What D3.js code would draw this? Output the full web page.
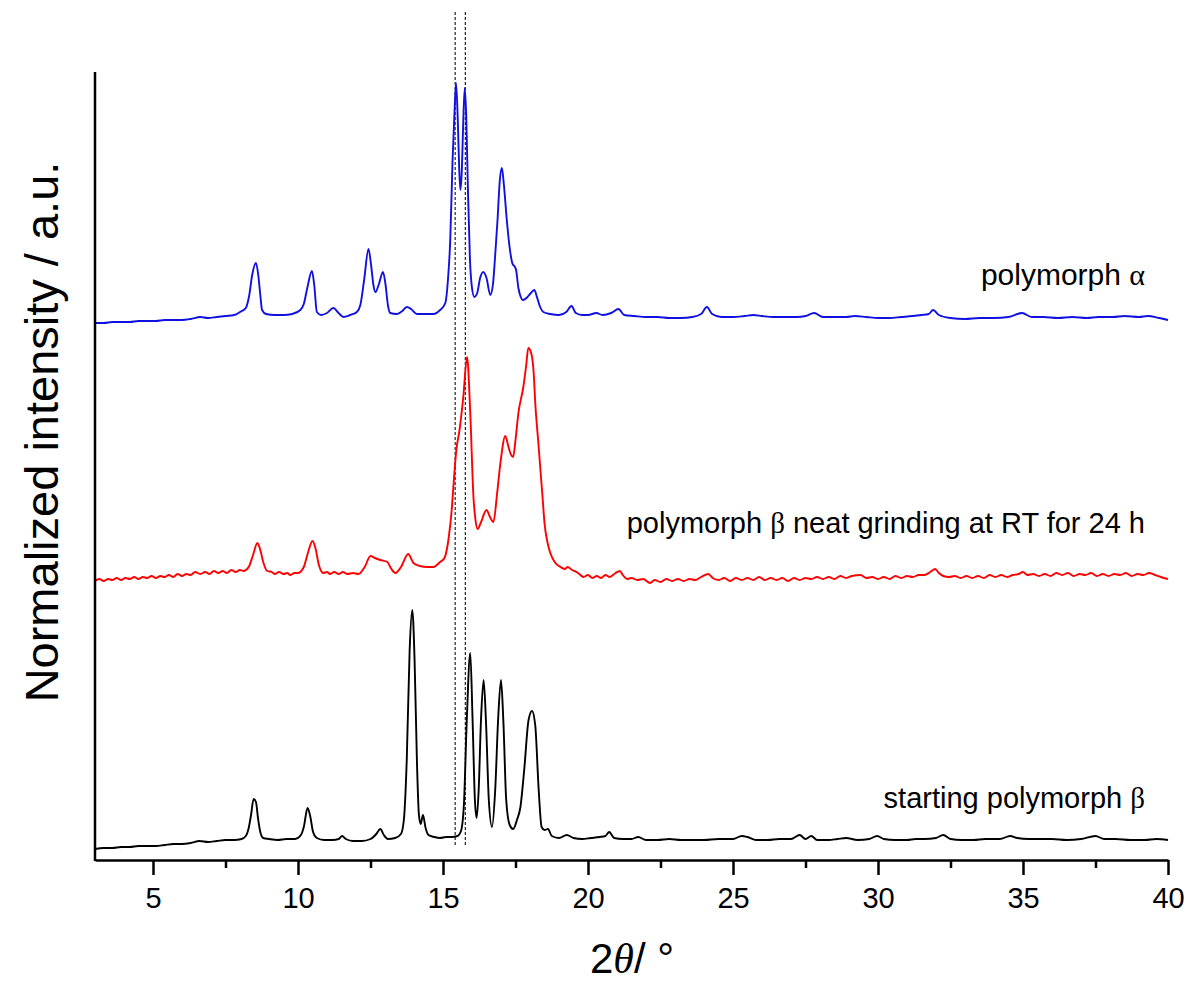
<!DOCTYPE html>
<html>
<head>
<meta charset="utf-8">
<script src="https://cdnjs.cloudflare.com/ajax/libs/d3/7.8.5/d3.min.js"></script>
<style>
  body { margin: 0; background: #fff; }
  svg { display: block; }
  text { font-family: "Liberation Sans", Arial, sans-serif; fill: #000; }
</style>
</head>
<body>
<div id="chart"></div>
<script>
// 2theta (deg) / normalized intensity (a.u., stacked)
var alphaData = [
  [3.0,537],[3.3,537],[3.6,538],[3.9,538],[4.2,538],[4.5,539],[4.8,539],[5.1,539],[5.4,540],[5.7,540],
  [6.0,540],[6.3,541],[6.63,543],[6.9,542],[7.2,543],[7.5,544],[7.8,545],[8.0,548],[8.2,552],[8.32,565],
  [8.42,585],[8.55,597],[8.63,585],[8.7,565],[8.76,550],[8.9,546],[9.2,545],[9.5,545],[9.8,546],[10.08,550],
  [10.2,556],[10.32,572],[10.48,589],[10.56,575],[10.65,548],[10.8,545],[11.0,547],[11.22,552],[11.4,547],[11.57,543],
  [11.8,545],[12.03,548],[12.15,555],[12.28,580],[12.43,611],[12.52,595],[12.6,575],[12.67,568],[12.78,575],[12.93,588],
  [13.02,575],[13.1,555],[13.18,547],[13.4,546],[13.6,549],[13.75,553],[13.9,551],[14.1,546],[14.4,546],[14.67,546],
  [14.9,550],[15.08,557],[15.17,580],[15.25,620],[15.33,700],[15.4,750],[15.45,777],[15.51,740],[15.56,690],[15.6,670],
  [15.65,690],[15.7,740],[15.75,772],[15.8,745],[15.86,670],[15.93,600],[16.0,572],[16.08,563],[16.18,567],[16.28,582],
  [16.39,588],[16.5,582],[16.63,565],[16.72,575],[16.8,605],[16.88,640],[16.96,680],[17.03,692],[17.1,675],[17.2,640],
  [17.3,612],[17.4,596],[17.46,594],[17.52,590],[17.6,572],[17.68,563],[17.75,560],[17.88,562],[18.0,566],[18.15,570],
  [18.25,562],[18.35,553],[18.46,548],[18.7,546],[19.0,545],[19.25,548],[19.43,554],[19.58,547],[19.8,545],[20.0,545],
  [20.29,547],[20.5,545],[20.8,547],[21.05,551],[21.25,545],[21.6,544],[22.0,543],[22.4,543],[22.8,542],[23.2,542],
  [23.6,543],[23.9,546],[24.1,553],[24.28,546],[24.6,543],[25.0,543],[25.4,544],[25.7,545],[26.0,544],[26.4,543],
  [26.8,543],[27.2,543],[27.5,544],[27.8,547],[28.1,543],[28.5,543],[28.9,543],[29.2,544],[29.6,543],[30.0,542],
  [30.4,542],[30.8,543],[31.2,544],[31.5,545],[31.75,546],[31.9,550],[32.1,545],[32.5,542],[33.0,541],[33.5,542],
  [34.0,542],[34.5,543],[34.97,547],[35.3,543],[35.7,543],[36.2,542],[36.7,543],[37.2,542],[37.6,543],[38.1,543],
  [38.5,544],[39.0,543],[39.3,544],[39.7,542],[40.0,540]
];

var groundData = [
  [3.0,279],[3.15,281],[3.3,279],[3.45,281],[3.6,280],[3.75,282],[3.9,280],[4.05,282],[4.2,281],[4.35,283],
  [4.5,281],[4.65,283],[4.8,282],[4.95,284],[5.1,282],[5.25,284],[5.4,283],[5.55,285],[5.7,283],[5.85,286],
  [6.0,284],[6.15,286],[6.3,285],[6.45,288],[6.63,286],[6.8,288],[6.95,286],[7.1,289],[7.25,287],[7.4,289],
  [7.55,287],[7.7,290],[7.85,288],[8.0,290],[8.12,289],[8.3,293],[8.45,305],
  [8.6,317],[8.7,310],[8.8,298],[8.94,289],[9.1,288],[9.2,286],[9.35,288],[9.5,286],[9.63,287],[9.73,285],[9.88,287],[10.0,287],[10.2,293],[10.35,308],
  [10.5,319],[10.6,312],[10.72,295],[10.87,287],[11.0,288],[11.1,286],[11.25,288],[11.4,286],[11.55,288],[11.7,286],[11.9,287],[12.08,286],[12.3,293],[12.5,304],
  [12.65,302],[12.84,300],[13.08,298],[13.2,292],[13.36,287],[13.55,293],[13.8,306],[13.98,297],[14.2,294],[14.46,293],
  [14.67,293],[14.9,298],[15.05,302],[15.2,323],[15.3,350],[15.35,370],[15.46,410],[15.57,430],[15.7,463],[15.83,503],
  [15.94,447],[16.05,363],[16.12,340],[16.19,331],[16.3,337],[16.5,350],[16.62,343],[16.74,338],[16.86,365],[16.98,397],
  [17.15,424],[17.25,414],[17.32,407],[17.42,403],[17.5,420],[17.6,447],[17.77,473],[17.87,495],[17.94,512],[18.04,507],
  [18.12,490],[18.19,453],[18.28,420],[18.36,390],[18.44,360],[18.5,337],[18.6,318],[18.7,307],[18.85,298],
  [19.05,293],[19.2,291],[19.3,293],[19.45,290],[19.6,288],[19.7,286],[19.84,283],[20.0,285],[20.15,282],[20.3,284],
  [20.45,282],[20.6,285],[20.75,283],[20.95,287],[21.1,289],[21.2,285],[21.35,281],[21.5,282],[21.7,280],[21.9,281],
  [22.14,277],[22.3,280],[22.5,278],[22.7,281],[22.9,279],[23.1,281],[23.3,279],[23.5,281],[23.7,280],[23.9,283],
  [24.15,286],[24.3,282],[24.5,280],[24.7,282],[24.9,279],[25.1,282],[25.3,280],[25.5,282],[25.7,280],[25.9,283],
  [26.1,280],[26.3,282],[26.5,280],[26.7,282],[26.9,279],[27.1,282],[27.3,280],[27.5,282],[27.7,281],[27.9,283],
  [28.1,281],[28.3,283],[28.5,281],[28.7,284],[28.9,282],[29.1,284],[29.4,285],[29.6,282],[29.8,283],[30.0,281],
  [30.2,283],[30.4,281],[30.6,284],[30.8,282],[31.0,284],[31.2,283],[31.4,285],[31.6,285],[31.8,288],[31.97,291],
  [32.1,287],[32.25,284],[32.45,283],[32.65,284],[32.85,282],[33.05,284],[33.25,282],[33.45,284],[33.65,282],[33.85,285],
  [34.05,283],[34.25,285],[34.45,283],[34.65,285],[34.85,286],[35.0,288],[35.15,285],[35.35,286],[35.55,284],[35.75,286],
  [35.95,284],[36.15,287],[36.35,285],[36.55,287],[36.75,284],[36.95,286],[37.15,285],[37.35,287],[37.55,284],[37.75,286],
  [37.95,284],[38.15,286],[38.35,285],[38.55,287],[38.75,284],[38.95,286],[39.15,285],[39.35,287],[39.55,285],[39.75,283],
  [40.0,281]
];

var betaData = [
  [3.0,11],[3.3,12],[3.6,12],[3.9,13],[4.2,13],[4.5,14],[4.8,14],[5.1,14],[5.4,15],[5.7,16],
  [6.0,16],[6.3,17],[6.6,19],[6.9,18],[7.2,19],[7.5,20],[7.8,20],[8.05,21],[8.2,24],[8.3,32],
  [8.38,45],[8.47,61],[8.55,58],[8.62,42],[8.7,28],[8.8,22],[9.0,21],[9.3,20],[9.6,21],[9.9,21],
  [10.1,25],[10.2,33],[10.33,52],[10.42,44],[10.52,28],[10.65,22],[10.9,20],[11.2,20],[11.4,21],[11.52,24],
  [11.65,21],[11.9,19],[12.2,19],[12.5,21],[12.7,26],[12.84,31],[12.96,25],[13.1,21],[13.35,22],[13.55,26],
  [13.65,40],[13.75,100],[13.85,210],[13.94,250],[14.02,200],[14.1,100],[14.17,45],[14.23,36],[14.31,45],[14.4,32],
  [14.5,25],[14.7,23],[14.9,22],[15.1,23],[15.3,23],[15.5,24],[15.62,29],[15.72,55],[15.82,140],[15.94,207],
  [16.02,140],[16.1,60],[16.16,42],[16.23,70],[16.31,140],[16.4,180],[16.48,140],[16.58,60],[16.69,33],[16.8,70],
  [16.9,140],[17.0,180],[17.08,140],[17.18,60],[17.3,35],[17.42,31],[17.55,40],[17.67,53],[17.8,90],[17.95,140],
  [18.07,149],[18.18,135],[18.3,70],[18.4,33],[18.5,30],[18.62,31],[18.75,24],[19.0,22],[19.27,25],[19.5,22],
  [19.8,21],[20.1,22],[20.4,23],[20.6,24],[20.73,28],[20.9,22],[21.2,21],[21.5,21],[21.73,23],[22.0,20],
  [22.4,20],[22.8,21],[23.2,20],[23.6,20],[24.0,20],[24.5,21],[25.0,21],[25.3,24],[25.5,23],[25.8,20],
  [26.2,20],[26.6,21],[27.0,21],[27.3,25],[27.5,21],[27.7,24],[27.9,20],[28.3,20],[28.6,21],[28.9,22],
  [29.3,20],[29.7,21],[29.97,24],[30.2,21],[30.6,20],[31.0,20],[31.3,21],[31.6,21],[32.0,22],[32.25,25],
  [32.5,21],[32.9,20],[33.3,20],[33.7,21],[34.2,21],[34.56,24],[34.8,22],[35.2,21],[35.6,21],[36.0,21],
  [36.5,20],[37.0,21],[37.5,24],[37.8,21],[38.2,21],[38.7,20],[39.2,20],[39.6,21],[40.0,20]
];

// reference positions marked with dotted lines (2theta) and their extent (a.u.)
var markerTheta = [15.42, 15.77];
var markerRange = [15, 848];

var majorTicks = [5, 10, 15, 20, 25, 30, 35, 40];
var minorTicks = [7.5, 12.5, 17.5, 22.5, 27.5, 32.5, 37.5];

var width = 1191, height = 985;

var svg = d3.select("#chart")
    .append("svg")
    .attr("width", width)
    .attr("height", height);

var x = d3.scaleLinear().domain([3, 40]).range([95, 1168]);
var y = d3.scaleLinear().domain([0, 788]).range([860, 72]);

var line = d3.line()
    .curve(d3.curveMonotoneX)
    .x(function(d) { return x(d[0]); })
    .y(function(d) { return y(d[1]); });

// dotted guide lines
svg.selectAll(".marker")
    .data(markerTheta)
    .enter()
    .append("line")
    .attr("class", "marker")
    .attr("x1", function(d) { return x(d); })
    .attr("x2", function(d) { return x(d); })
    .attr("y1", y(markerRange[1]))
    .attr("y2", y(markerRange[0]))
    .attr("stroke", "#222")
    .attr("stroke-width", 1.2)
    .attr("stroke-dasharray", "3,2");

var series = [
  { data: alphaData, color: "#1010e0" },
  { data: groundData, color: "#ff0000" },
  { data: betaData, color: "#000000" }
];

svg.selectAll(".trace")
    .data(series)
    .enter()
    .append("path")
    .attr("class", "trace")
    .attr("d", function(d) { return line(d.data); })
    .attr("fill", "none")
    .attr("stroke", function(d) { return d.color; })
    .attr("stroke-width", 1.9)
    .attr("stroke-linejoin", "round");

// x axis: major + minor ticks
var xAxis = svg.append("g")
    .attr("transform", "translate(0," + y(0) + ")")
    .call(d3.axisBottom(x).tickValues(majorTicks).tickSize(15).tickSizeOuter(0).tickPadding(12).tickFormat(d3.format("d")));

svg.append("g")
    .attr("transform", "translate(0," + y(0) + ")")
    .call(d3.axisBottom(x).tickValues(minorTicks).tickSize(8).tickSizeOuter(0).tickFormat(""))
    .select(".domain").remove();

svg.selectAll(".tick line").attr("stroke", "#000").attr("stroke-width", 2.5);
xAxis.select(".domain").attr("stroke", "#000").attr("stroke-width", 2.5);
xAxis.selectAll(".tick text")
    .style("font-size", "29px")
    .style("font-family", "'Liberation Sans', Arial, sans-serif");

// left axis line, no ticks
svg.append("line")
    .attr("x1", x(3)).attr("x2", x(3))
    .attr("y1", y(0) + 1).attr("y2", y(788))
    .attr("stroke", "#000")
    .attr("stroke-width", 2.5);

// series labels
svg.append("text")
    .attr("x", 1145).attr("y", 285)
    .attr("text-anchor", "end")
    .style("font-size", "30px")
    .html('polymorph <tspan style="font-family:\'Liberation Serif\',serif">α</tspan>');

svg.append("text")
    .attr("x", 1145).attr("y", 533)
    .attr("text-anchor", "end")
    .style("font-size", "29px")
    .html('polymorph <tspan style="font-family:\'Liberation Serif\',serif">β</tspan> neat grinding at RT for 24 h');

svg.append("text")
    .attr("x", 1145).attr("y", 808)
    .attr("text-anchor", "end")
    .style("font-size", "29px")
    .html('starting polymorph <tspan style="font-family:\'Liberation Serif\',serif">β</tspan>');

// axis titles
svg.append("text")
    .attr("transform", "translate(58,432) rotate(-90)")
    .attr("text-anchor", "middle")
    .style("font-size", "47px")
    .text("Normalized intensity / a.u.");

svg.append("text")
    .attr("x", 632).attr("y", 973)
    .attr("text-anchor", "middle")
    .style("font-size", "42px")
    .html('2<tspan style="font-family:\'Liberation Serif\',serif;font-style:italic">θ</tspan>/ °');
</script>
</body>
</html>
